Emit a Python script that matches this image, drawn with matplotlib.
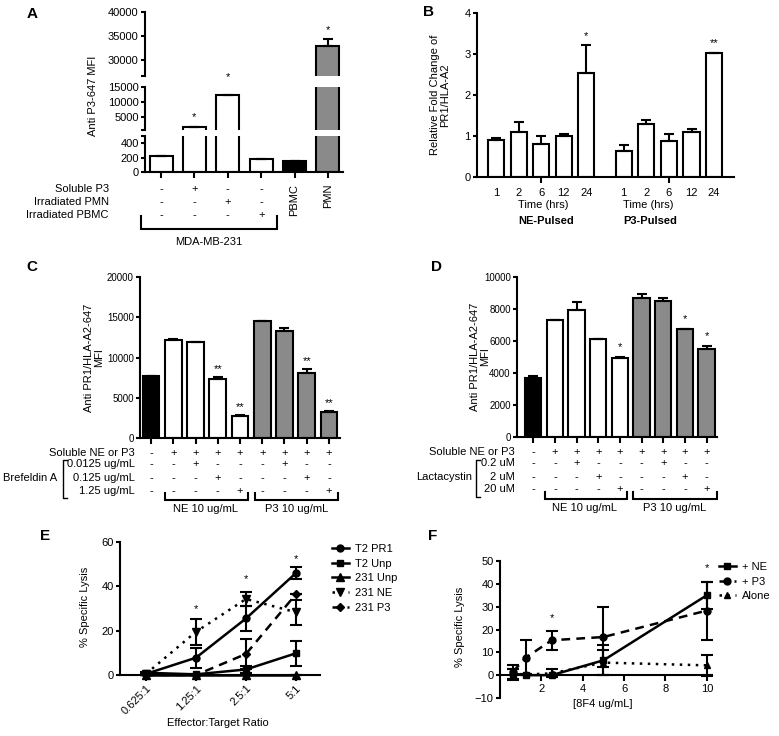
import matplotlib
matplotlib.use('Agg')
import matplotlib.pyplot as plt
from matplotlib.transforms import blended_transform_factory as btf
import numpy as np

plt.rcParams['font.family'] = ['Liberation Sans', 'DejaVu Sans']
plt.rcParams['font.size'] = 8

# ---------------- data ----------------
A_groups = ['231', '231 + P3', '231 + PMN', '231 + PBMC', 'PBMC', 'PMN']
A_mfi = [225, 1600, 12300, 175, 148, 32900]
A_mfi_err = [0, 0, 120, 8, 0, 1400]
A_stars = ['', '*', '*', '', '', '*']
A_row_labels = ['Soluble P3', 'Irradiated PMN', 'Irradiated PBMC']
A_soluble_p3 = ['-', '+', '-', '-']
A_irr_pmn = ['-', '-', '+', '-']
A_irr_pbmc = ['-', '-', '-', '+']
A_cell_labels = ['PBMC', 'PMN']
A_bracket_label = 'MDA-MB-231'

B_times = ['1', '2', '6', '12', '24']
B_ne = [0.91, 1.09, 0.81, 1.00, 2.54]
B_ne_err = [0.05, 0.26, 0.20, 0.04, 0.67]
B_p3 = [0.64, 1.29, 0.87, 1.09, 3.01]
B_p3_err = [0.15, 0.10, 0.18, 0.08, 0.02]
B_ne_stars = ['', '', '', '', '*']
B_p3_stars = ['', '', '', '', '**']
B_groups = ['NE-Pulsed', 'P3-Pulsed']

C_mfi = [7650, 12200, 11900, 7330, 2780, 14500, 13350, 8100, 3180]
C_err = [0, 130, 50, 250, 80, 80, 270, 500, 130]
C_stars = ['', '', '', '**', '**', '', '', '**', '**']
C_doses = ['0.0125 ug/mL', '0.125 ug/mL', '1.25 ug/mL']

D_mfi = [3670, 7290, 7960, 6100, 4960, 8710, 8500, 6750, 5520]
D_err = [160, 0, 480, 30, 30, 250, 190, 20, 170]
D_stars = ['', '', '', '', '*', '', '', '*', '*']
D_doses = ['0.2 uM', '2 uM', '20 uM']

CD_soluble = ['-', '+', '+', '+', '+', '+', '+', '+', '+']
CD_dose_low = ['-', '-', '+', '-', '-', '-', '+', '-', '-']
CD_dose_mid = ['-', '-', '-', '+', '-', '-', '-', '+', '-']
CD_dose_high = ['-', '-', '-', '-', '+', '-', '-', '-', '+']
CD_group = ['ctrl', 'NE', 'NE', 'NE', 'NE', 'P3', 'P3', 'P3', 'P3']

E_ratios = ['0.625:1', '1.25:1', '2.5:1', '5:1']
E_names = ['T2 PR1', 'T2 Unp', '231 Unp', '231 NE', '231 P3']
E_t2_pr1 = [0.5, 7.8, 25.5, 46.0]
E_t2_pr1_err = [0.5, 4.6, 5.5, 2.6]
E_t2_unp = [1.0, 0.3, 2.5, 9.8]
E_t2_unp_err = [0.5, 0.3, 1.5, 5.6]
E_231_unp = [0.0, 0.0, 0.0, 0.0]
E_231_unp_err = [0.0, 0.0, 0.0, 0.0]
E_231_ne = [0.5, 19.5, 34.3, 28.3]
E_231_ne_err = [0.5, 5.8, 3.0, 5.6]
E_231_p3 = [0.0, 0.0, 9.5, 36.5]
E_231_p3_err = [0.0, 0.0, 6.8, 0.0]
E_stars = ['', '*', '*', '*']

F_conc = [0.625, 1.25, 2.5, 5, 10]
F_names = ['+ NE', '+ P3', 'Alone']
F_ne = [0.7, 0.0, 0.0, 6.5, 35.0]
F_ne_err = [2.2, 0.0, 0.0, 6.5, 6.0]
F_p3 = [1.5, 7.7, 15.3, 16.7, 28.3]
F_p3_err = [3.1, 7.7, 4.2, 13.3, 12.7]
F_alone = [0.5, 0.3, 0.8, 5.5, 4.3]
F_alone_err = [2.4, 0.0, 1.8, 5.4, 4.7]
F_stars = ['', '', '*', '', '*']

# ---------------- helpers ----------------
W, H = 779, 736
fig = plt.figure(figsize=(W / 100, H / 100), dpi=100)
LW = 1.5
GRAY = '#8a8a8a'
FILL = {'ctrl': 'black', 'NE': 'white', 'P3': GRAY}


def fx(px):
    return px / W


def fy(py):
    return 1 - py / H


def add_ax(l, t, r, b):
    return fig.add_axes([l / W, 1 - b / H, (r - l) / W, (b - t) / H])


def style(ax, bottom=True):
    for s in ['top', 'right']:
        ax.spines[s].set_visible(False)
    ax.spines['left'].set_linewidth(LW)
    ax.spines['bottom'].set_linewidth(LW)
    if not bottom:
        ax.spines['bottom'].set_visible(False)
        ax.tick_params(bottom=False, labelbottom=False)
    ax.tick_params(which='both', width=LW, length=3, pad=1.5)
    ax.set_facecolor('none')


def ftext(px, py, s, **kw):
    kw.setdefault('ha', 'center')
    kw.setdefault('va', 'center')
    fig.text(fx(px), fy(py), s, **kw)


def xtext(ax, x, py, s, **kw):
    kw.setdefault('ha', 'center')
    kw.setdefault('va', 'center')
    ax.text(x, fy(py), s, transform=btf(ax.transData, fig.transFigure), clip_on=False, **kw)


def star(ax, x, y, s, dy_px, fs=8):
    ax.annotate(s, (x, y), xytext=(0, dy_px * 0.72), textcoords='offset points',
                ha='center', va='center', fontsize=fs, annotation_clip=False)


def bracket_under(ax, x0, x1, top_px, bot_px):
    tr = btf(ax.transData, fig.transFigure)
    ax.plot([x0, x0, x1, x1], [fy(top_px), fy(bot_px), fy(bot_px), fy(top_px)],
            transform=tr, color='k', lw=LW, clip_on=False, solid_joinstyle='miter')


def fig_bracket_left(px, top, bot, arm=4):
    fig.lines.append(plt.Line2D([fx(px + arm), fx(px), fx(px), fx(px + arm)],
                                [fy(top), fy(top), fy(bot), fy(bot)],
                                transform=fig.transFigure, color='k', lw=1.0))


def bars(ax, x, vals, errs, fills, width):
    ax.bar(x, vals, width=width, color=fills, edgecolor='k', linewidth=LW,
           yerr=[np.zeros(len(vals)), errs], capsize=3.5,
           error_kw=dict(elinewidth=LW, capthick=LW, ecolor='k'))


# ---------------- panel A (broken axis in three segments) ----------------
A_x = np.arange(len(A_mfi))
A_fill = ['white'] * 4 + ['black', GRAY]
segs = [(11.7, 76, 26700, 40000, [30000, 35000, 40000]),
        (87, 130, 667, 15000, [5000, 10000, 15000]),
        (136, 172, 0, 497, [0, 200, 400])]
axA = []
for i, (t, b, lo, hi, tk) in enumerate(segs):
    ax = add_ax(145, t, 343, b)
    # bars that end below this segment are not drawn in it
    vis = [v if v > lo else np.nan for v in A_mfi]
    ers = [e if v > lo else np.nan for v, e in zip(A_mfi, A_mfi_err)]
    bars(ax, A_x, vis, ers, A_fill, 0.69)
    ax.set_ylim(lo, hi)
    ax.set_xlim(-0.48, 5.45)
    ax.set_yticks(tk)
    ax.set_yticks([lo, hi], minor=True)
    style(ax, bottom=(i == 2))
    ax.tick_params(axis='y', labelsize=8)
    axA.append(ax)
axA[2].set_xticks(A_x)
axA[2].set_xticklabels([])
axA[2].tick_params(axis='x', length=4)
star(axA[1], 1, A_mfi[1], A_stars[1], 10)
axA[0].annotate(A_stars[2], (2, 0), xycoords=('data', 'axes fraction'), xytext=(0, -0.72),
                textcoords='offset points', ha='center', va='center', annotation_clip=False)
star(axA[0], 5, A_mfi[5] + A_mfi_err[5], A_stars[5], 9)
ftext(93, 96, 'Anti P3-647 MFI', rotation=90)
for lab, py, vals in zip(A_row_labels, [189, 202, 215], [A_soluble_p3, A_irr_pmn, A_irr_pbmc]):
    ftext(109, py, lab, ha='right')
    for xi, v in enumerate(vals):
        xtext(axA[2], xi, py, v)
for xi, lab in zip([4, 5], A_cell_labels):
    xtext(axA[2], xi, 184, lab, rotation=90, va='top')
bracket_under(axA[2], -0.6, 3.47, 216, 229)
xtext(axA[2], 1.43, 242, A_bracket_label)

# ---------------- panel B ----------------
axB = add_ax(477, 12.7, 734, 177)
B_x1 = np.arange(5)
B_x2 = np.arange(5) + 5.65
bars(axB, B_x1, B_ne, B_ne_err, 'white', 0.71)
bars(axB, B_x2, B_p3, B_p3_err, 'white', 0.71)
axB.set_xlim(-0.84, 10.53)
axB.set_ylim(0, 4)
axB.set_yticks([0, 1, 2, 3, 4])
axB.set_xticks([2, 7.65])
axB.set_xticklabels([])
style(axB)
axB.tick_params(axis='x', length=4)
for xs, vals, errs, st in [(B_x1, B_ne, B_ne_err, B_ne_stars), (B_x2, B_p3, B_p3_err, B_p3_stars)]:
    for x, v, e, s in zip(xs, vals, errs, st):
        if s:
            star(axB, x, v + e, s, 9)
    for x, t in zip(xs, B_times):
        xtext(axB, x, 193, t)
xtext(axB, 2.08, 205, 'Time (hrs)')
xtext(axB, 6.73, 205, 'Time (hrs)')
xtext(axB, 2.2, 221, B_groups[0], fontweight='bold')
xtext(axB, 6.8, 221, B_groups[1], fontweight='bold')
ftext(440, 95, 'Relative Fold Change of\nPR1/HLA-A2', rotation=90, linespacing=1.1)


# ---------------- panels C and D ----------------
def panel_cd(box, xlim, ylim, yticks, vals, errs, stars, star_dy, doses, drug, drug_px,
             brk_px, ylab_px, row_py, right_px, lab_bracket, ne_br, p3_br, br_py, lab_py):
    ax = add_ax(*box)
    x = np.arange(len(vals))
    bars(ax, x, vals, errs, [FILL[g] for g in CD_group], 0.75)
    ax.set_xlim(*xlim)
    ax.set_ylim(*ylim)
    ax.set_yticks(yticks)
    ax.set_xticks(x)
    ax.set_xticklabels([])
    style(ax)
    ax.tick_params(axis='y', labelsize=7)
    ax.tick_params(axis='x', length=4)
    for xi, v, e, s in zip(x, vals, errs, stars):
        if s:
            star(ax, xi, v + e, s, star_dy)
    ftext(ylab_px[0], ylab_px[1], 'Anti PR1/HLA-A2-647\nMFI', rotation=90, linespacing=1.0)
    rows = [('Soluble NE or P3', CD_soluble), (doses[0], CD_dose_low),
            (doses[1], CD_dose_mid), (doses[2], CD_dose_high)]
    for (lab, vs), py in zip(rows, row_py):
        ftext(right_px, py, lab, ha='right')
        for xi, v in zip(x, vs):
            xtext(ax, xi, py, v)
    ftext(drug_px, row_py[2], drug, ha='right')
    fig_bracket_left(brk_px, lab_bracket[0], lab_bracket[1])
    bracket_under(ax, ne_br[0], ne_br[1], br_py - 7, br_py)
    bracket_under(ax, p3_br[0], p3_br[1], br_py - 7, br_py)
    xtext(ax, (ne_br[0] + ne_br[1]) / 2 - 0.05, lab_py, 'NE 10 ug/mL')
    xtext(ax, (p3_br[0] + p3_br[1]) / 2, lab_py, 'P3 10 ug/mL')
    return ax


axC = panel_cd((140, 277, 340, 438), (-0.5, 8.5), (0, 20000), [0, 5000, 10000, 15000, 20000],
               C_mfi, C_err, C_stars, 8, C_doses, 'Brefeldin A', 57, 63, (94, 358),
               [453, 464, 478, 491], 135, (460, 498), (0.63, 4.37), (4.68, 8.42), 500, 509)
axD = panel_cd((517, 277, 717, 437), (-0.75, 8.48), (0, 10000), [0, 2000, 4000, 6000, 8000, 10000],
               D_mfi, D_err, D_stars, 10, D_doses, 'Lactacystin', 472, 476, (480, 357),
               [452, 463, 477, 489], 515, (460, 497), (0.54, 4.32), (4.6, 8.48), 499, 508)

# ---------------- panel E ----------------
axE = add_ax(120, 542, 320, 675)
E_x = np.arange(len(E_ratios))
E_data = [(E_t2_pr1, E_t2_pr1_err, 'o', '-', 5),
          (E_t2_unp, E_t2_unp_err, 's', '-', 5),
          (E_231_unp, E_231_unp_err, '^', '-', 5.5),
          (E_231_ne, E_231_ne_err, 'v', (0, (1, 2.2)), 5.5),
          (E_231_p3, E_231_p3_err, 'D', (0, (3.5, 2.5)), 4.5)]
handles = []
for (vals, errs, mk, ls, ms), name in zip(E_data, E_names):
    axE.errorbar(E_x, vals, yerr=errs, fmt='none', ecolor='k', elinewidth=LW,
                 capsize=4, capthick=LW, clip_on=False)
    h, = axE.plot(E_x, vals, color='k', lw=LW + 0.3, ls=ls, marker=mk, ms=ms,
                  clip_on=False, label=name)
    handles.append(h)
axE.set_xlim(-0.52, 3.48)
axE.set_ylim(0, 60)
axE.set_yticks([0, 20, 40, 60])
axE.set_xticks(E_x)
axE.set_xticklabels(E_ratios, rotation=45, ha='right', rotation_mode='anchor')
style(axE)
axE.tick_params(axis='x', length=4, pad=2)
star(axE, 1, 25.3, E_stars[1], 10)
star(axE, 2, 37.3, E_stars[2], 13)
star(axE, 3, 48.6, E_stars[3], 8)
ftext(85, 607, '% Specific Lysis', rotation=90)
ftext(218, 723, 'Effector:Target Ratio')
axE.legend(handles=handles, loc='upper left', bbox_to_anchor=(fx(332), fy(544)),
           bbox_transform=fig.transFigure, frameon=False, handlelength=1.5,
           handletextpad=0.55, labelspacing=0.42, borderpad=0, borderaxespad=0, fontsize=8)

# ---------------- panel F ----------------
axF = add_ax(500, 561, 712, 698)
F_data = [(F_ne, F_ne_err, 's', '-', 5),
          (F_p3, F_p3_err, 'o', (0, (3.5, 2.5)), 5),
          (F_alone, F_alone_err, '^', (0, (1, 2.2)), 4)]
fh = []
for (vals, errs, mk, ls, ms), name in zip(F_data, F_names):
    axF.errorbar(F_conc, vals, yerr=errs, fmt='none', ecolor='k', elinewidth=LW,
                 capsize=4, capthick=LW, clip_on=False)
    h, = axF.plot(F_conc, vals, color='k', lw=LW + 0.3, ls=ls, marker=mk, ms=ms,
                  clip_on=False, label=name)
    fh.append(h)
axF.set_xlim(0, 10.25)
axF.set_ylim(-10, 50)
axF.set_yticks(np.arange(-10, 51, 10))
axF.set_xticks([2, 4, 6, 8, 10])
style(axF)
axF.spines['bottom'].set_position(('data', 0))
axF.tick_params(axis='x', length=4, pad=2)
star(axF, 2.5, 19.5, F_stars[2], 13)
star(axF, 10, 41, F_stars[4], 13)
ftext(460, 627, '% Specific Lysis', rotation=90)
ftext(603, 704, '[8F4 ug/mL]')
axF.legend(handles=fh, loc='upper left', bbox_to_anchor=(fx(719), fy(562)),
           bbox_transform=fig.transFigure, frameon=False, handlelength=1.5,
           handletextpad=0.55, labelspacing=0.42, borderpad=0, borderaxespad=0, fontsize=8)

# ---------------- panel letters ----------------
for lab, px, py in [('A', 32, 14), ('B', 428, 12), ('C', 32, 267), ('D', 436, 267),
                    ('E', 45, 536), ('F', 433, 536)]:
    ftext(px, py, lab, fontsize=11, fontweight='bold')

fig.savefig('out.png', dpi=100)
